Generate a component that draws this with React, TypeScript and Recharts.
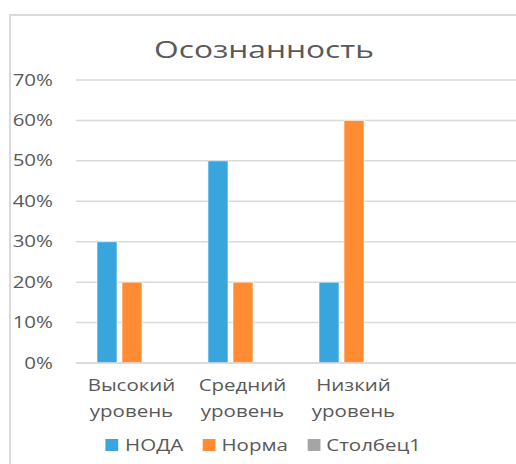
import { Bar, BarChart, CartesianGrid, Legend, XAxis, YAxis } from 'recharts';

// Excel-style clustered bars; the fourth slot is an empty category
const CATEGORIES = ['Высокий уровень', 'Средний уровень', 'Низкий уровень', ''];
const NODA = [30, 50, 20, null];
const NORMA = [20, 20, 60, null];
const STOLBEC1 = [null, null, null, null];
const Y_TICKS = [0, 10, 20, 30, 40, 50, 60, 70];

const SERIES = [
  { key: 'noda', name: 'НОДА', color: '#38A6DD' },
  { key: 'norma', name: 'Норма', color: '#FF8B32' },
  { key: 'col1', name: 'Столбец1', color: '#A5A5A5' },
];

const FONT = '"Open Sans", "Noto Sans", sans-serif';
const TEXT = '#595959';
const GRID = '#D9D9D9';
// the source image is stretched sideways, so text is widened to match
const STRETCH = 1.28;

const rows = CATEGORIES.map((name, i) => ({
  name,
  noda: NODA[i],
  norma: NORMA[i],
  col1: STOLBEC1[i],
}));

function CategoryTick({ x, y, payload }: any) {
  const words = String(payload?.value ?? '').split(' ').filter(Boolean);
  if (words.length === 0) return null;
  return (
    <g transform={`translate(${x},${y}) scale(${STRETCH},1)`}>
      <text x={0} y={0} textAnchor="middle" fill={TEXT} fontSize={16} fontFamily={FONT}>
        {words.map((w, i) => (
          <tspan key={w} x={0} dy={i === 0 ? 20 : 26.5}>
            {w}
          </tspan>
        ))}
      </text>
    </g>
  );
}

function PercentTick({ x, y, payload }: any) {
  return (
    <g transform={`translate(${x},${y}) scale(${STRETCH},1)`}>
      <text x={0} y={0} dy={5.5} textAnchor="end" fill={TEXT} fontSize={16} fontFamily={FONT}>
        {`${payload.value}%`}
      </text>
    </g>
  );
}

function LegendRow() {
  return (
    <div
      style={{
        display: 'flex',
        justifyContent: 'center',
        alignItems: 'center',
        gap: 15,
        transform: `scaleX(${STRETCH})`,
        fontFamily: FONT,
        fontSize: 16,
        color: TEXT,
        lineHeight: '22px',
      }}
    >
      {SERIES.map((s) => (
        <div key={s.key} style={{ display: 'flex', alignItems: 'center', gap: 5 }}>
          <span style={{ display: 'inline-block', width: 10, height: 12, background: s.color }} />
          <span>{s.name}</span>
        </div>
      ))}
    </div>
  );
}

export default function App() {
  return (
    <div
      style={{
        position: 'absolute',
        left: 0,
        top: 0,
        width: 516,
        height: 464,
        overflow: 'hidden',
        background: '#fff',
      }}
    >
      <div
        style={{
          position: 'absolute',
          left: 9,
          top: 14,
          width: 600,
          height: 600,
          borderLeft: `2px solid ${GRID}`,
          borderTop: `2px solid ${GRID}`,
        }}
      />
      <div
        style={{
          position: 'absolute',
          left: 0,
          width: 528,
          top: 33,
          textAlign: 'center',
          fontFamily: FONT,
          fontSize: 24,
          color: TEXT,
          lineHeight: '32px',
          transform: 'scaleX(1.32)',
        }}
      >
        Осознанность
      </div>
      <div style={{ position: 'absolute', left: 0, top: 0 }}>
        <BarChart
          width={540}
          height={464}
          data={rows}
          margin={{ top: 80, right: 20, bottom: 8, left: 0 }}
          barSize={20}
          barGap={5}
        >
          <CartesianGrid vertical={false} stroke={GRID} strokeWidth={1.5} />
          <XAxis
            dataKey="name"
            axisLine={{ stroke: GRID, strokeWidth: 1.5 }}
            tickLine={false}
            height={71}
            interval={0}
            tick={<CategoryTick />}
          />
          <YAxis
            width={76}
            domain={[0, 70]}
            ticks={Y_TICKS}
            axisLine={false}
            tickLine={false}
            tickSize={0}
            tickMargin={23}
            tick={<PercentTick />}
          />
          <Legend
            verticalAlign="bottom"
            align="center"
            wrapperStyle={{ left: 0, width: 527 }}
            content={() => <LegendRow />}
          />
          {SERIES.map((s) => (
            <Bar
              key={s.key}
              dataKey={s.key}
              name={s.name}
              fill={s.color}
              stroke="rgba(255,255,255,0.6)"
              isAnimationActive={false}
            />
          ))}
        </BarChart>
      </div>
    </div>
  );
}
